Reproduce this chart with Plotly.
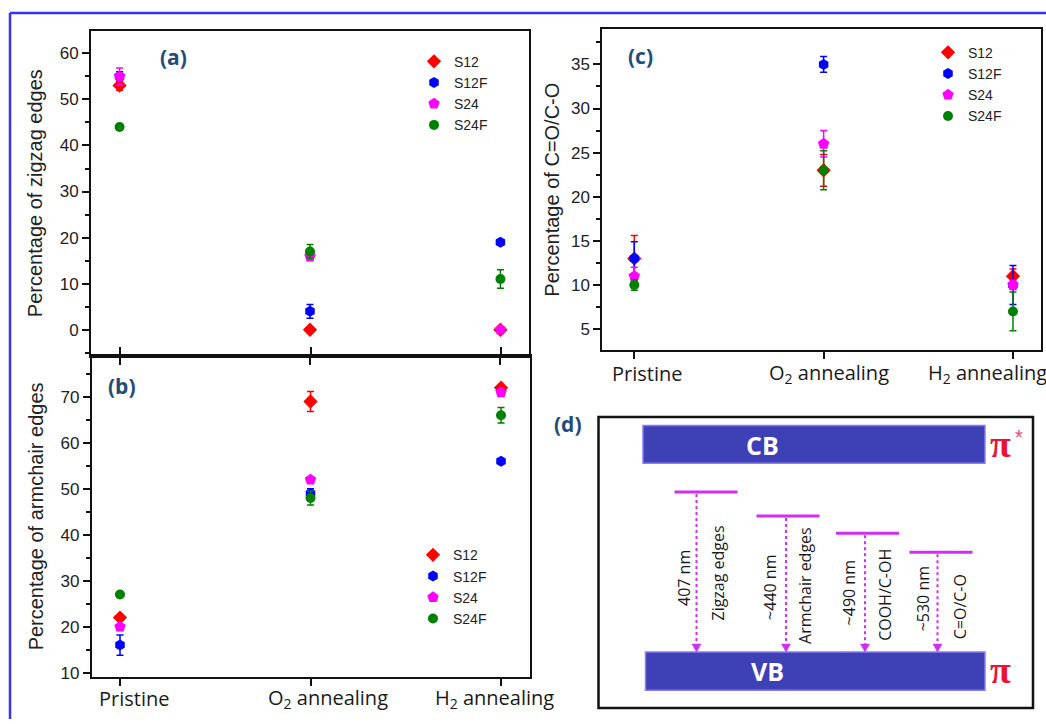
import plotly.graph_objects as go

W, H = 1046, 724

# ---------------- data ----------------
categories = ["Pristine", "O<sub>2</sub> annealing", "H<sub>2</sub> annealing"]
series_names = ["S12", "S12F", "S24", "S24F"]

# (a) percentage of zigzag edges
zigzag_s12 = [53, 0, 0]
zigzag_s12f = [55, 4, 19]
zigzag_s24 = [55, 16, 0]
zigzag_s24f = [44, 17, 11]
zigzag_err_s12 = [1.0, 0.0, 0.0]
zigzag_err_s12f = [1.0, 1.5, 0.5]
zigzag_err_s24 = [1.8, 1.0, 0.0]
zigzag_err_s24f = [0.0, 1.5, 2.0]

# (b) percentage of armchair edges
armchair_s12 = [22, 69, 72]
armchair_s12f = [16, 49, 56]
armchair_s24 = [20, 52, 71]
armchair_s24f = [27, 48, 66]
armchair_err_s12 = [0.0, 2.2, 0.5]
armchair_err_s12f = [2.2, 1.0, 0.0]
armchair_err_s24 = [0.5, 0.0, 0.5]
armchair_err_s24f = [0.0, 1.5, 1.7]

# (c) percentage of C=O/C-O
co_s12 = [13, 23, 11]
co_s12f = [13, 35, 10]
co_s24 = [11, 26, 10]
co_s24f = [10, 23, 7]
co_err_s12 = [2.6, 1.8, 0.8]
co_err_s12f = [1.9, 0.9, 2.2]
co_err_s24 = [1.0, 1.5, 0.5]
co_err_s24f = [0.6, 2.2, 2.2]

# (d) emission schematic
wavelength_labels = ["407 nm", "~440 nm", "~490 nm", "~530 nm"]
origin_labels = ["Zigzag edges", "Armchair edges", "COOH/C-OH", "C=O/C-O"]

# ---------------- styling ----------------
colors = ["#ff0000", "#0000ff", "#ff00ff", "#008000"]
symbols = ["diamond", "hexagon", "pentagon", "circle"]
msizes = [11, 11, 12, 10]
xpos = [0, 1, 2]

AX = "#111111"
TICKFONT = dict(family="Liberation Sans, Arial", size=17, color="#222222")
TITLEFONT = dict(family="Liberation Sans, Arial", size=20, color="#222222")
LEGFONT = dict(family="Liberation Sans, Arial", size=14, color="#222222")
LABEL_BLUE = "#1f4d78"
LEVEL = "#cf2ff0"


def fx(p):
    return p / W


def fy(p):
    return 1 - p / H


fig = go.Figure()

panels = [
    ("x", "y", "legend",
     [zigzag_s12, zigzag_s12f, zigzag_s24, zigzag_s24f],
     [zigzag_err_s12, zigzag_err_s12f, zigzag_err_s24, zigzag_err_s24f]),
    ("x2", "y2", "legend2",
     [armchair_s12, armchair_s12f, armchair_s24, armchair_s24f],
     [armchair_err_s12, armchair_err_s12f, armchair_err_s24, armchair_err_s24f]),
    ("x3", "y3", "legend3",
     [co_s12, co_s12f, co_s24, co_s24f],
     [co_err_s12, co_err_s12f, co_err_s24, co_err_s24f]),
]

for xa, ya, leg, vals, errs in panels:
    for i, name in enumerate(series_names):
        fig.add_trace(go.Scatter(
            x=xpos, y=vals[i], name=name, mode="markers",
            xaxis=xa, yaxis=ya, legend=leg,
            marker=dict(symbol=symbols[i], size=msizes[i], color=colors[i],
                        line=dict(width=0)),
            error_y=dict(type="data", array=errs[i], visible=True,
                         color=colors[i], thickness=1.5, width=3.5),
        ))


def xaxis_cfg(left, right, anchor, rng, mirror):
    return dict(domain=[fx(left), fx(right)], anchor=anchor, range=rng,
                tickvals=xpos, showticklabels=False, ticks="outside",
                ticklen=7, tickwidth=1.5, tickcolor=AX, showline=True,
                linewidth=2, linecolor=AX, mirror=mirror, showgrid=False,
                zeroline=False)


def yaxis_cfg(top, bottom, anchor, rng, dtick, title, standoff):
    return dict(domain=[fy(bottom), fy(top)], anchor=anchor, range=rng,
                tick0=0, dtick=dtick, ticks="outside", ticklen=7,
                tickwidth=1.5, tickcolor=AX, tickfont=TICKFONT,
                minor=dict(dtick=dtick / 2, ticks="outside", ticklen=4,
                           tickwidth=1.5, tickcolor=AX),
                showline=True, linewidth=2, linecolor=AX, mirror=True,
                showgrid=False, zeroline=False,
                title=dict(text=title, font=TITLEFONT, standoff=standoff))


def right_ticks(over, anchor, rng, dtick):
    return dict(overlaying=over, side="right", anchor=anchor, range=rng,
                tick0=0, dtick=dtick, ticks="inside", ticklen=7,
                tickwidth=1.5, tickcolor=AX, showticklabels=False,
                minor=dict(dtick=dtick / 2, ticks="inside", ticklen=4,
                           tickwidth=1.5, tickcolor=AX),
                showline=False, showgrid=False, zeroline=False)


ra = [-5.6, 64.9]
rb = [9, 79]
rc = [2.6, 39]

fig.update_layout(
    width=W, height=H, margin=dict(l=0, r=0, t=0, b=0),
    paper_bgcolor="white", plot_bgcolor="rgba(0,0,0,0)",
    xaxis=xaxis_cfg(91, 529, "y", [-0.15, 2.15], True),
    yaxis=yaxis_cfg(31, 358, "x", ra, 10, "Percentage of zigzag edges", 12),
    xaxis2=xaxis_cfg(91.8, 529.6, "y2", [-0.148, 2.15], "ticks"),
    yaxis2=yaxis_cfg(358, 682, "x2", rb, 10, "Percentage of armchair edges", 11),
    xaxis3=xaxis_cfg(602.3, 1041, "y3", [-0.169, 2.148], True),
    yaxis3=yaxis_cfg(29.3, 352.7, "x3", rc, 5, "Percentage of C=O/C-O", 6),
    yaxis5=right_ticks("y", "x", ra, 10),
    yaxis6=right_ticks("y2", "x2", rb, 10),
    yaxis7=right_ticks("y3", "x3", rc, 5),
    # pixel frame used for the schematic and free labels
    xaxis4=dict(domain=[0, 1], range=[0, W], visible=False, anchor="y4"),
    yaxis4=dict(domain=[0, 1], range=[H, 0], visible=False, anchor="x4"),
    legend=dict(x=fx(414), y=fy(46), xanchor="left", yanchor="top",
                font=LEGFONT, bgcolor="rgba(0,0,0,0)", tracegroupgap=0),
    legend2=dict(x=fx(413), y=fy(543), xanchor="left", yanchor="top",
                 font=LEGFONT, bgcolor="rgba(0,0,0,0)", tracegroupgap=0),
    legend3=dict(x=fx(928), y=fy(37), xanchor="left", yanchor="top",
                 font=LEGFONT, bgcolor="rgba(0,0,0,0)", tracegroupgap=0),
    showlegend=True,
)

shapes = []
annotations = []


def px_shape(**kw):
    kw.update(xref="x4", yref="y4")
    shapes.append(kw)


def px_text(x, y, text, **kw):
    d = dict(x=x, y=y, xref="x4", yref="y4", text=text, showarrow=False)
    d.update(kw)
    annotations.append(d)


# blue page frame
px_shape(type="line", x0=10, x1=W, y0=13, y1=13, line=dict(color="#3535ee", width=2.5))
px_shape(type="line", x0=10, x1=10, y0=13, y1=H, line=dict(color="#3535ee", width=2.5))

# panel letters
LFONT = dict(family="Open Sans", size=21, color=LABEL_BLUE)
px_text(173, 57, "<b>(a)</b>", font=LFONT)
px_text(122, 389, "<b>(b)</b>", font=LFONT)
px_text(640, 56, "<b>(c)</b>", font=LFONT)
px_text(568, 427, "<b>(d)</b>", font=LFONT)

# category labels under panels (b) and (c)
CATFONT = dict(family="Open Sans", size=20, color="#1a1a1a")
for cx, txt in zip([97, 266, 433], categories):
    px_text(cx, 703, txt, xanchor="left", yanchor="middle", font=CATFONT)
for cx, txt in zip([610, 767, 926], categories):
    px_text(cx, 376, txt, xanchor="left", yanchor="middle", font=CATFONT)

# ---------------- (d) band schematic ----------------
px_shape(type="rect", x0=598.5, x1=1033, y0=420, y1=713,
         line=dict(color="#111111", width=2.5))
band_fill = "#3e40b6"
band_edge = "#8a7cf2"
px_shape(type="rect", x0=643, x1=985, y0=428.5, y1=466.5,
         fillcolor=band_fill, line=dict(color=band_edge, width=1.5))
px_shape(type="rect", x0=645.5, x1=985, y0=656.5, y1=695,
         fillcolor=band_fill, line=dict(color=band_edge, width=1.5))
BANDFONT = dict(family="Open Sans", size=25, color="white")
px_text(762, 448, "<b>CB</b>", font=BANDFONT)
px_text(767, 676, "<b>VB</b>", font=BANDFONT)
PIFONT = dict(family="Liberation Serif", size=38, color="#ee1133")
px_text(1000, 447, "<b>π</b>", font=PIFONT)
px_text(1019, 440, "*", font=dict(family="Liberation Sans", size=20, color="#e8457a"))
px_text(1000, 675, "<b>π</b>", font=PIFONT)

level_y = [495.5, 519.5, 537, 556]
level_x0 = [674.5, 756.5, 836, 909.5]
level_x1 = [737.5, 819.5, 899, 972.5]
arrow_x = [696.5, 786, 865, 937.5]
wave_x = [684, 770, 848.5, 922.5]
wave_y = [582, 592, 597, 603]
origin_x = [718.5, 805, 885, 959.5]
origin_y = [577, 590, 599, 611]
arrow_tip = 656.5

SMALL = dict(family="Open Sans", size=16, color="#1a1a1a")
for k in range(4):
    px_shape(type="line", x0=level_x0[k], x1=level_x1[k], y0=level_y[k], y1=level_y[k],
             line=dict(color=LEVEL, width=3))
    px_shape(type="line", x0=arrow_x[k], x1=arrow_x[k], y0=level_y[k] + 2, y1=arrow_tip - 7,
             line=dict(color=LEVEL, width=2, dash="dot"))
    ax = arrow_x[k]
    px_shape(type="path",
             path=f"M {ax - 4.5} {arrow_tip - 8} L {ax + 4.5} {arrow_tip - 8} L {ax} {arrow_tip} Z",
             fillcolor=LEVEL, line=dict(color=LEVEL, width=0.5))
    px_text(wave_x[k], wave_y[k], wavelength_labels[k], textangle=-90, font=SMALL)
    px_text(origin_x[k], origin_y[k], origin_labels[k], textangle=-90, font=SMALL)

fig.update_layout(shapes=shapes, annotations=annotations)

fig.write_html("out.html")
